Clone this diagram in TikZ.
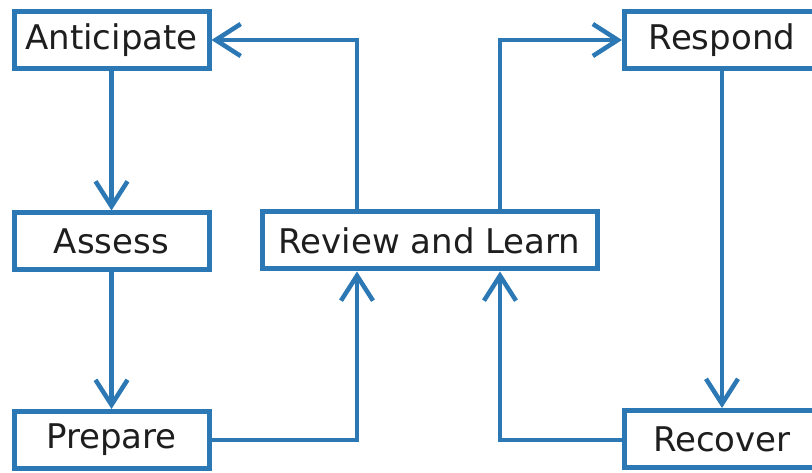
\documentclass[tikz,border=0pt]{standalone}
\usepackage{fontspec}
\setmainfont{DejaVu Sans}
\usetikzlibrary{arrows.meta}
\definecolor{lineblue}{HTML}{2B78B5}
\definecolor{txt}{HTML}{1E1E1E}
\tikzset{
  box/.style={draw=lineblue, line width=5pt, fill=white, minimum height=57pt, inner sep=0pt, text=txt, font=\fontsize{34}{37}\selectfont},
  conn/.style={draw=lineblue, line width=4.5pt, -{Straight Barb[length=25pt,width=32pt,line width=4.5pt]}},
}
\begin{document}
\begin{tikzpicture}[x=1pt,y=-1pt]
\path[use as bounding box, clip] (0,0) rectangle (812,473);
\fill[white] (0,0) rectangle (812,473);
\node[box, minimum width=195pt] (ant) at (111.5,40.5) {Anticipate};
\node[box, minimum width=195pt] (ass) at (111.5,241.5) {Assess};
\node[box, minimum width=195pt] (pre) at (111.5,440) {Prepare};
\node[box, minimum width=335pt] (rev) at (429.5,240.5) {Review and Learn};
\node[box, minimum width=195pt] (res) at (722,40) {Respond};
\node[box, minimum width=195pt] (rec) at (722,439) {Recover};
\coordinate (c1) at (357,440);
\coordinate (c2) at (500,440);
\coordinate (c3) at (357,40);
\coordinate (c4) at (500,40);
\draw[conn] (ant) -- (ass);
\draw[conn] (ass) -- (pre);
\draw[conn] (pre.east |- c1) -- (c1) -- (c1 |- rev.south);
\draw[conn] (rec.west |- c2) -- (c2) -- (c2 |- rev.south);
\draw[conn] (c3 |- rev.north) -- (c3) -- (ant.east |- c3);
\draw[conn] (c4 |- rev.north) -- (c4) -- (res.west |- c4);
\draw[conn] (res) -- (rec);
\end{tikzpicture}
\end{document}
